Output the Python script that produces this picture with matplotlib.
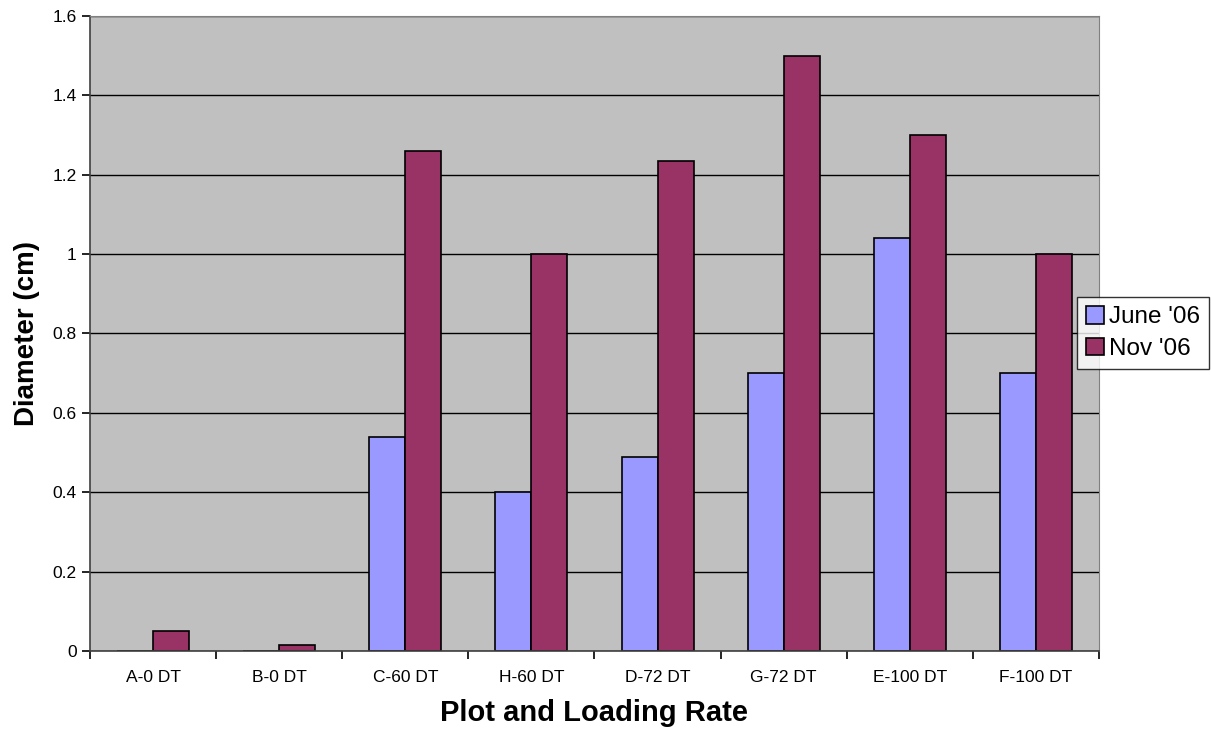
import numpy as np
import matplotlib.pyplot as plt

plt.rcParams['font.family'] = ['Liberation Sans', 'DejaVu Sans']

plots = ['A-0 DT', 'B-0 DT', 'C-60 DT', 'H-60 DT', 'D-72 DT', 'G-72 DT', 'E-100 DT', 'F-100 DT']
june = [0, 0, 0.54, 0.40, 0.49, 0.70, 1.04, 0.70]
nov = [0.05, 0.015, 1.26, 1.00, 1.235, 1.50, 1.30, 1.00]

fig = plt.figure(figsize=(12.11, 7.33), dpi=100)
ax = fig.add_axes([0.0743, 0.1119, 0.8332, 0.8663])
ax.set_facecolor('#C0C0C0')

x = np.arange(len(plots))
w = 0.2857
ax.bar(x - w/2, june, w, color='#9999FF', edgecolor='black', linewidth=1.2, label="June '06", zorder=3)
ax.bar(x + w/2, nov, w, color='#993366', edgecolor='black', linewidth=1.2, label="Nov '06", zorder=3)

ax.set_xlim(-0.5, len(plots) - 0.5)
ax.set_ylim(0, 1.6)
ax.set_yticks(np.arange(0, 1.61, 0.2))
ax.set_yticklabels(['0', '0.2', '0.4', '0.6', '0.8', '1', '1.2', '1.4', '1.6'])
ax.set_xticks(x)
ax.set_xticklabels(plots)
ax.set_xticks(np.arange(-0.5, len(plots), 1), minor=True)
ax.tick_params(axis='x', which='major', length=0, labelsize=12.5, pad=14)
ax.tick_params(axis='x', which='minor', length=6, width=1.2, direction='out')
ax.tick_params(axis='y', length=6, width=1.2, labelsize=12.5, direction='out')
ax.yaxis.grid(True, color='black', linewidth=1, zorder=0)

for side in ['top', 'right']:
    ax.spines[side].set_color('#808080')
for side in ['left', 'bottom']:
    ax.spines[side].set_color('#404040')
    ax.spines[side].set_linewidth(1.2)
ax.spines['bottom'].set_zorder(4)

ax.set_xlabel('Plot and Loading Rate', fontsize=21, fontweight='bold', labelpad=10)
ax.set_ylabel('Diameter (cm)', fontsize=20, fontweight='bold', labelpad=9)

leg = fig.legend(loc='center right', bbox_to_anchor=(0.998, 0.5457), fontsize=17.5,
                 frameon=True, fancybox=False, edgecolor='black',
                 handlelength=0.75, handleheight=0.75, handletextpad=0.2,
                 borderpad=0.35, labelspacing=0.38, borderaxespad=0)
leg.get_frame().set_linewidth(1)

fig.savefig('out.png', dpi=100)
